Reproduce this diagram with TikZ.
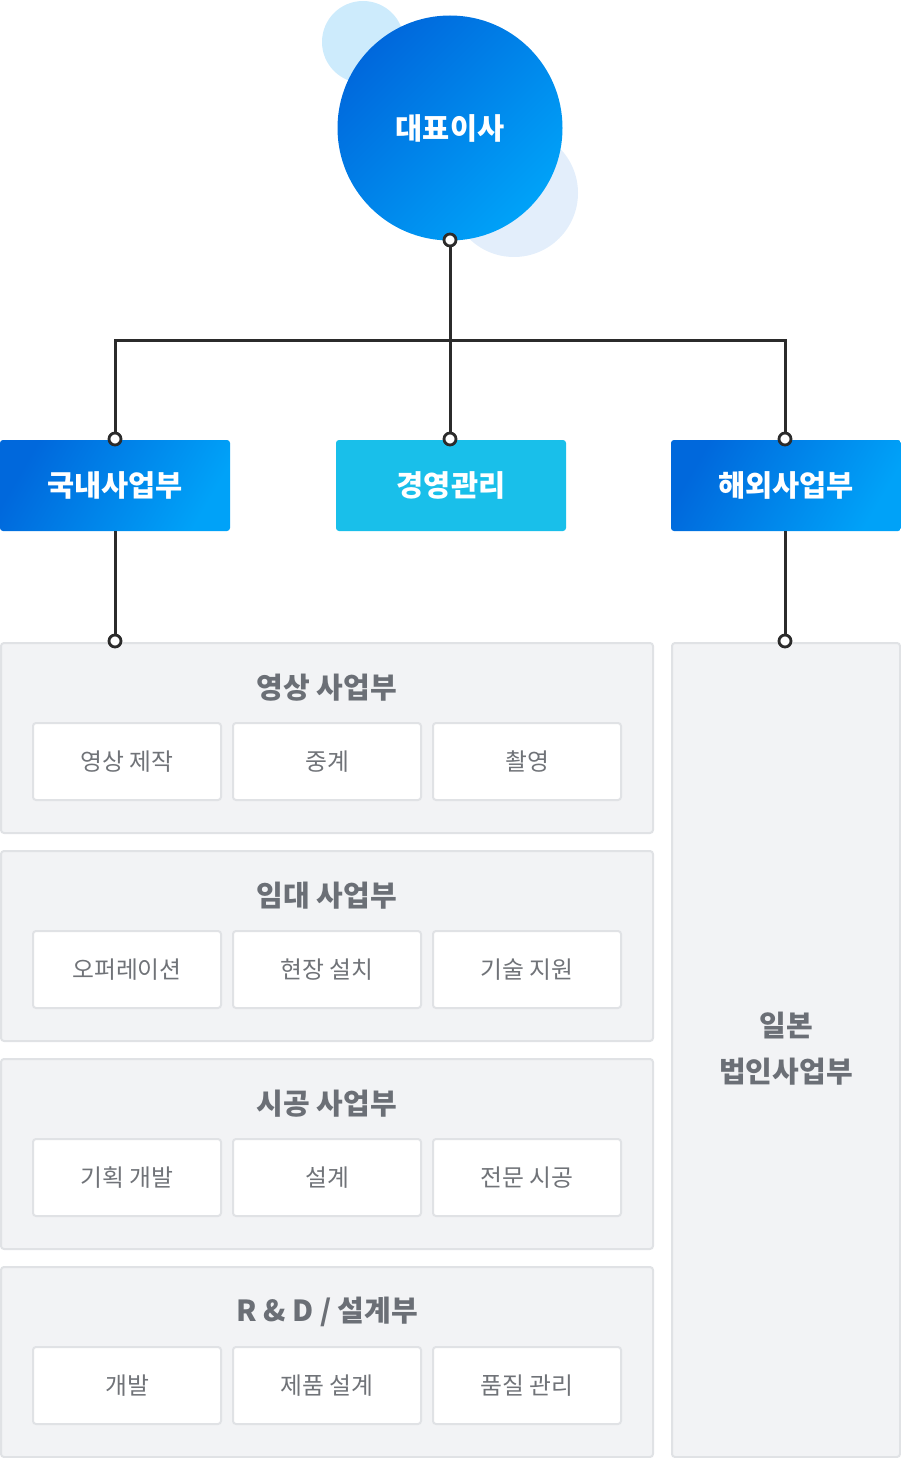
\documentclass[tikz,border=0pt]{standalone}
\usepackage{fontspec}
\setmainfont{Noto Sans CJK KR}
\definecolor{lineC}{HTML}{2B2B2B}
\definecolor{blueA}{HTML}{0068DC}
\definecolor{blueB}{HTML}{00A2F8}
\definecolor{cyanC}{HTML}{19BFEA}
\definecolor{bubbleA}{HTML}{CDEBFC}
\definecolor{bubbleB}{HTML}{E3EEFB}
\definecolor{panelF}{HTML}{F2F3F5}
\definecolor{panelD}{HTML}{E0E2E5}
\definecolor{titleT}{HTML}{6B6F76}
\definecolor{itemT}{HTML}{707378}
\tikzset{
  conn/.style={draw=lineC, line width=3},
  dot/.style={circle, draw=lineC, fill=white, line width=2.8, inner sep=0, minimum size=12},
  dept/.style={rectangle, rounded corners=3, minimum width=230, minimum height=91, text=white, font=\fontsize{29.5}{34}\selectfont\bfseries},
  deptgrad/.style={dept, top color=blueA, bottom color=blueB, shading angle=60},
  group/.style={rectangle, rounded corners=3, fill=panelF, draw=panelD, line width=2, minimum width=652, minimum height=190},
  grouptitle/.style={text=titleT, font=\fontsize{29}{34}\selectfont\bfseries},
  item/.style={rectangle, rounded corners=3, fill=white, draw=panelD, line width=2, minimum width=188, minimum height=77, text=itemT, font=\fontsize{23.8}{28}\selectfont}
}
\begin{document}
\begin{tikzpicture}[x=1pt, y=-1pt]
\useasboundingbox (0,0) rectangle (901,1458);
\fill[bubbleA] (363,42) circle (41);
\fill[bubbleB] (514,193) circle (64);
\node[circle, minimum size=225, inner sep=0, top color=blueA, bottom color=blueB, shading angle=45, text=white, font=\fontsize{29.5}{34}\selectfont\bfseries] (ceo) at (450,128) {대표이사};
\node[deptgrad] (dom) at (115,485.5) {국내사업부};
\node[dept, fill=cyanC] (mgmt) at (451,485.5) {경영관리};
\node[deptgrad] (ovs) at (786,485.5) {해외사업부};
\node[group] (g1) at (327,738) {};
\node[group] (g2) at (327,946) {};
\node[group] (g3) at (327,1154) {};
\node[group] (g4) at (327,1362) {};
\node[group, minimum width=228, minimum height=814] (jp) at (786,1050) {};
\node[grouptitle, align=center, font=\fontsize{29}{46}\selectfont\bfseries] (jpt) at (786,1049) {일본\\법인사업부};
\node[grouptitle] (g1t) at (327,688) {영상 사업부};
\node[item] (g1a) at (127,761.5) {영상 제작};
\node[item] (g1b) at (327,761.5) {중계};
\node[item] (g1c) at (527,761.5) {촬영};
\node[grouptitle] (g2t) at (327,896) {임대 사업부};
\node[item] (g2a) at (127,969.5) {오퍼레이션};
\node[item] (g2b) at (327,969.5) {현장 설치};
\node[item] (g2c) at (527,969.5) {기술 지원};
\node[grouptitle] (g3t) at (327,1104) {시공 사업부};
\node[item] (g3a) at (127,1177.5) {기획 개발};
\node[item] (g3b) at (327,1177.5) {설계};
\node[item] (g3c) at (527,1177.5) {전문 시공};
\node[grouptitle] (g4t) at (327,1312) {R \& D / 설계부};
\node[item] (g4a) at (127,1385.5) {개발};
\node[item] (g4b) at (327,1385.5) {제품 설계};
\node[item] (g4c) at (527,1385.5) {품질 관리};
\node[dot] (d0) at (450,240) {};
\node[dot] (d1) at (115,439) {};
\node[dot] (d2) at (450,439) {};
\node[dot] (d3) at (785,439) {};
\node[dot] (d4) at (115,641) {};
\node[dot] (d5) at (785,641) {};
\coordinate (split) at (450,340);
\draw[conn] (d0) -- (d2);
\draw[conn] (d1) |- (split) -| (d3);
\draw[conn] (dom) -- (d4);
\draw[conn] (ovs.south -| d5) -- (d5);
\end{tikzpicture}
\end{document}
